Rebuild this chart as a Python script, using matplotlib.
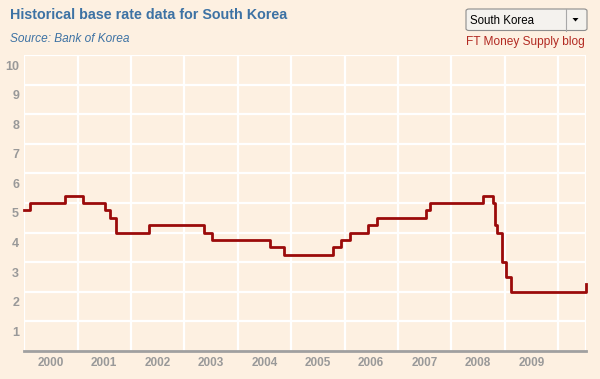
import matplotlib
matplotlib.use("Agg")
import matplotlib.pyplot as plt
import matplotlib.dates as mdates
import matplotlib.transforms as mtransforms
from matplotlib.patches import FancyBboxPatch, Polygon
import pandas as pd

# Bank of Korea base rate changes (date, rate in %)
change_dates = ["2000-01-01", "2000-02-10", "2000-10-05", "2001-02-08", "2001-07-05",
                "2001-08-09", "2001-09-19", "2002-05-07", "2003-05-13", "2003-07-10",
                "2004-08-12", "2004-11-11", "2005-10-11", "2005-12-08", "2006-02-09",
                "2006-06-08", "2006-08-10", "2007-07-12", "2007-08-09", "2008-08-07",
                "2008-10-09", "2008-10-27", "2008-11-07", "2008-12-11", "2009-01-09",
                "2009-02-12", "2010-07-09"]
rates = [4.75, 5.00, 5.25, 5.00, 4.75,
         4.50, 4.00, 4.25, 4.00, 3.75,
         3.50, 3.25, 3.50, 3.75, 4.00,
         4.25, 4.50, 4.75, 5.00, 5.25,
         5.00, 4.25, 4.00, 3.00, 2.50,
         2.00, 2.25]
year_labels = [str(y) for y in range(2000, 2010)]
y_ticks = list(range(1, 11))

bg = "#fdf0e1"
line_col = "#9b0a0a"
grey = "#a0a0a0"

dates = pd.to_datetime(change_dates)

fig = plt.figure(figsize=(6.0, 3.79), dpi=100, facecolor=bg)
ax = fig.add_axes([24 / 600, 1 - 351 / 379, 562 / 600, 296 / 379])
ax.set_facecolor(bg)

ax.step(dates, rates, where="post", color=line_col, lw=2, zorder=3, clip_on=False)

ax.set_ylim(0, 10)
ax.set_xlim(pd.Timestamp("2000-01-01"), pd.Timestamp("2010-07-10"))

# grid: integers vertically, year starts horizontally
ax.set_yticks(y_ticks)
ax.set_yticklabels([str(v) for v in y_ticks])
ax.xaxis.set_major_locator(mdates.YearLocator())
ax.xaxis.set_major_formatter(plt.NullFormatter())
ax.set_xticks(pd.to_datetime([f"{y}-07-01" for y in year_labels]), minor=True)
ax.set_xticklabels(year_labels, minor=True)
ax.grid(True, which="major", color="white", lw=1.6, zorder=1)
ax.axvline(pd.Timestamp("2010-07-10"), color="white", lw=1.6, zorder=1)

ax.tick_params(which="both", length=0)
ax.tick_params(axis="x", which="minor", pad=4, labelsize=8.5, labelcolor="#999999")
ax.tick_params(axis="y", pad=3.5, labelsize=9, labelcolor="#999999")
for lab in ax.get_xticklabels(minor=True) + ax.get_yticklabels():
    lab.set_fontweight("bold")
    lab.set_family("Liberation Sans")

# y labels sit a little below their grid line
offset = mtransforms.ScaledTranslation(0, -10 / 100, fig.dpi_scale_trans)
for lab in ax.get_yticklabels():
    lab.set_transform(lab.get_transform() + offset)

for s in ["top", "left", "right"]:
    ax.spines[s].set_visible(False)
ax.spines["bottom"].set_color(grey)
ax.spines["bottom"].set_linewidth(2)
ax.spines["bottom"].set_zorder(4)

# header texts
fig.text(10 / 600, 1 - 15 / 379, "Historical base rate data for South Korea",
         fontsize=10.3, fontweight="bold", color="#3d72a4", family="Liberation Sans",
         va="center", ha="left")
fig.text(10 / 600, 1 - 39 / 379, "Source: Bank of Korea", fontsize=8.6,
         style="italic", color="#3d72a4", family="Liberation Sans", va="center", ha="left")
fig.text(585 / 600, 1 - 42 / 379, "FT Money Supply blog", fontsize=8.6,
         color="#b22a22", family="Liberation Sans", va="center", ha="right")

# dropdown box
box = FancyBboxPatch((466 / 600, 1 - 30.5 / 379), 121 / 600, 21.5 / 379,
                     boxstyle="round,pad=0,rounding_size=0.005",
                     transform=fig.transFigure, facecolor="#f4f2ee",
                     edgecolor="#8c8c8c", lw=0.8)
fig.patches.append(box)
fig.add_artist(plt.Line2D([566 / 600, 566 / 600], [1 - 30.5 / 379, 1 - 9 / 379],
                          transform=fig.transFigure, color="#a8a8a8", lw=0.8))
tri = Polygon([[572.5 / 600, 1 - 18 / 379], [578.5 / 600, 1 - 18 / 379], [575.5 / 600, 1 - 21.5 / 379]],
              closed=True, transform=fig.transFigure, color="black", lw=0)
fig.patches.append(tri)
fig.text(470 / 600, 1 - 20.5 / 379, "South Korea", fontsize=8.3, color="black",
         family="Liberation Sans", va="center", ha="left")

fig.savefig("out.png", dpi=100, facecolor=bg)
